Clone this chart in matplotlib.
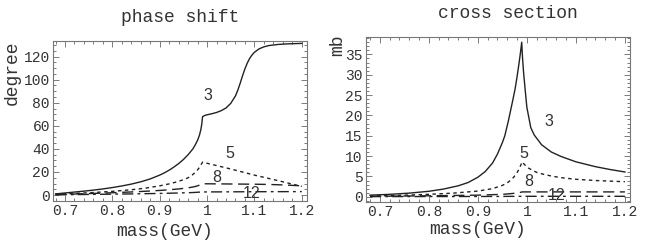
import matplotlib
matplotlib.use("Agg")
import matplotlib.pyplot as plt
from matplotlib.ticker import MultipleLocator, FuncFormatter

# ---------------- data ----------------
# phase shift (degree) vs mass (GeV)
mass_ps3 = [0.68, 0.70, 0.72, 0.74, 0.76, 0.78, 0.80, 0.82, 0.84, 0.86, 0.88, 0.90,
            0.91, 0.92, 0.93, 0.94, 0.95, 0.96, 0.97, 0.975, 0.98, 0.984, 0.987,
            0.989, 0.9905, 0.995, 1.00, 1.01, 1.02, 1.03, 1.04, 1.05, 1.06, 1.065,
            1.07, 1.075, 1.08, 1.085, 1.09, 1.095, 1.10, 1.11, 1.12, 1.13, 1.15,
            1.17, 1.20]
phase_3 = [1.0, 1.8, 2.6, 3.4, 4.3, 5.3, 6.5, 7.9, 9.5, 11.5, 14.0, 17.3,
           19.3, 21.6, 24.3, 27.3, 30.8, 35.0, 40.0, 43.5, 47.5, 52.0, 57.0,
           62.0, 68.0, 69.0, 69.6, 70.5, 71.6, 73.2, 75.5, 79.5, 86.0, 91.0,
           97.0, 103.5, 109.5, 114.5, 118.5, 121.5, 123.8, 126.8, 128.5, 129.6, 130.6,
           131.1, 131.5]

mass_ps5 = [0.68, 0.72, 0.76, 0.80, 0.84, 0.87, 0.90, 0.92, 0.935, 0.95, 0.96, 0.97,
            0.978, 0.984, 0.988, 0.9905, 1.05, 1.10, 1.15, 1.20]
phase_5 = [0.6, 1.4, 2.2, 3.2, 4.6, 6.0, 8.0, 9.7, 11.3, 13.3, 15.0, 17.8,
           20.8, 24.0, 26.8, 28.5, 22.6, 17.3, 12.5, 7.5]

mass_ps8 = [0.68, 0.72, 0.76, 0.80, 0.84, 0.87, 0.90, 0.92, 0.94, 0.955, 0.965, 0.975,
            0.982, 0.987, 0.9905, 1.05, 1.10, 1.13, 1.16, 1.20]
phase_8 = [0.4, 0.9, 1.4, 2.0, 2.7, 3.3, 4.0, 4.6, 5.3, 6.0, 6.6, 7.4,
           8.3, 9.2, 9.8, 9.6, 9.4, 9.2, 8.8, 8.0]

mass_ps12 = [0.68, 0.72, 0.76, 0.80, 0.84, 0.87, 0.90, 0.92, 0.94, 0.955, 0.965, 0.975,
             0.982, 0.987, 0.9905, 1.05, 1.10, 1.20]
phase_12 = [0.2, 0.4, 0.6, 0.8, 1.0, 1.2, 1.4, 1.6, 1.8, 2.0, 2.1, 2.3,
            2.5, 2.6, 2.7, 2.8, 2.9, 3.0]

# cross section (mb) vs mass (GeV)
mass_cs3 = [0.68, 0.72, 0.76, 0.80, 0.83, 0.86, 0.88, 0.90, 0.915, 0.93, 0.94, 0.95,
            0.955, 0.962, 0.97, 0.976, 0.98, 0.984, 0.987, 0.9895, 0.991, 0.993,
            0.996, 1.00, 1.004, 1.008, 1.015, 1.03, 1.05, 1.07, 1.10, 1.14, 1.17, 1.20]
cs_3 = [0.4, 0.6, 0.9, 1.35, 1.9, 2.7, 3.5, 4.8, 6.2, 8.3, 10.5, 13.3,
        15.0, 18.5, 23.0, 26.5, 29.5, 32.8, 35.5, 38.0, 34.5, 31.0,
        27.0, 22.0, 19.5, 17.0, 15.2, 12.8, 11.0, 9.9, 8.6, 7.4, 6.7, 6.1]

mass_cs5 = [0.68, 0.74, 0.80, 0.85, 0.90, 0.93, 0.95, 0.96, 0.97, 0.978, 0.984, 0.988,
            0.9905, 0.993, 0.997, 1.003, 1.01, 1.02, 1.035, 1.05, 1.07, 1.10, 1.14, 1.20]
cs_5 = [0.2, 0.35, 0.6, 0.9, 1.4, 2.0, 2.8, 3.4, 4.4, 5.5, 6.8, 7.9,
        8.6, 8.2, 7.7, 7.1, 6.6, 6.0, 5.5, 5.1, 4.7, 4.3, 4.0, 3.7]

mass_cs8 = [0.68, 0.76, 0.84, 0.90, 0.95, 0.97, 0.984, 0.9905, 1.05, 1.10, 1.20]
cs_8 = [0.1, 0.2, 0.3, 0.4, 0.6, 0.8, 1.0, 1.2, 1.2, 1.2, 1.2]

mass_cs12 = [0.68, 0.84, 0.95, 0.9905, 1.10, 1.20]
cs_12 = [0.05, 0.06, 0.09, 0.12, 0.12, 0.12]

curve_labels = ["3", "5", "8", "12"]
label_pos_ps = [(1.002, 86.7), (1.048, 36.4), (1.021, 15.6), (1.094, 1.7)]
label_pos_cs = [(1.045, 18.4), (0.9945, 10.7), (1.004, 3.7), (1.06, 0.4)]

# ---------------- styling ----------------
mono = "Liberation Mono"
sans = "Liberation Sans"
ink = "#222222"
styles = [dict(ls="-", lw=1.0),
          dict(ls=(0, (2.5, 2.5)), lw=1.0),
          dict(ls=(0, (8, 4)), lw=1.0),
          dict(ls=(0, (8, 3, 2, 3)), lw=1.0)]

fig = plt.figure(figsize=(6.54, 2.44), dpi=100)
ax1 = fig.add_axes([0.0806, 0.176, 0.469 - 0.0806, 0.833 - 0.176])
ax2 = fig.add_axes([0.559, 0.173, 0.963 - 0.559, 0.847 - 0.173])


def style_axes(ax, ymaj, ymin):
    ax.xaxis.set_major_locator(MultipleLocator(0.1))
    ax.xaxis.set_minor_locator(MultipleLocator(0.02))
    ax.yaxis.set_major_locator(MultipleLocator(ymaj))
    ax.yaxis.set_minor_locator(MultipleLocator(ymin))
    ax.xaxis.set_major_formatter(FuncFormatter(lambda v, p: "%g" % round(v, 3)))
    ax.tick_params(which="both", direction="in", top=True, right=True,
                   color="#666666", width=0.6)
    ax.tick_params(which="major", length=4, labelsize=10.5, labelcolor="#333333",
                   pad=2)
    ax.tick_params(which="minor", length=2)
    for lab in ax.get_xticklabels() + ax.get_yticklabels():
        lab.set_fontfamily(mono)
    for s in ax.spines.values():
        s.set_color("#777777")
        s.set_linewidth(0.8)


ps_x = [mass_ps3, mass_ps5, mass_ps8, mass_ps12]
ps_y = [phase_3, phase_5, phase_8, phase_12]
for xs, ys, st in zip(ps_x, ps_y, styles):
    ax1.plot(xs, ys, color=ink, **st)
for lab, (x, y) in zip(curve_labels, label_pos_ps):
    ax1.text(x, y, lab, ha="center", va="center", fontsize=11.5,
             family=sans, color="#333333")
ax1.set_xlim(0.674, 1.2105)
ax1.set_ylim(-5.2, 133.8)
style_axes(ax1, 20, 5)

cs_x = [mass_cs3, mass_cs5, mass_cs8, mass_cs12]
cs_y = [cs_3, cs_5, cs_8, cs_12]
for xs, ys, st in zip(cs_x, cs_y, styles):
    ax2.plot(xs, ys, color=ink, **st)
for lab, (x, y) in zip(curve_labels, label_pos_cs):
    ax2.text(x, y, lab, ha="center", va="center", fontsize=11.5,
             family=sans, color="#333333")
ax2.set_xlim(0.671, 1.21)
ax2.set_ylim(-1.23, 39.2)
style_axes(ax2, 5, 1)

# titles and axis labels (figure coordinates from pixel positions)
W, H = 654.0, 244.0
def ft(x, y, s, **kw):
    fig.text(x / W, 1 - y / H, s, family=mono, color="#333333",
             ha="center", va="center", **kw)

ft(180, 17, "phase shift", fontsize=13)
ft(508, 13, "cross section", fontsize=13)
ft(165, 231, "mass(GeV)", fontsize=13)
ft(478, 230, "mass(GeV)", fontsize=13)
ft(12, 73, "degree", fontsize=13, rotation=90)
ft(338, 45, "mb", fontsize=13, rotation=90)

fig.savefig("out.png", dpi=100)
